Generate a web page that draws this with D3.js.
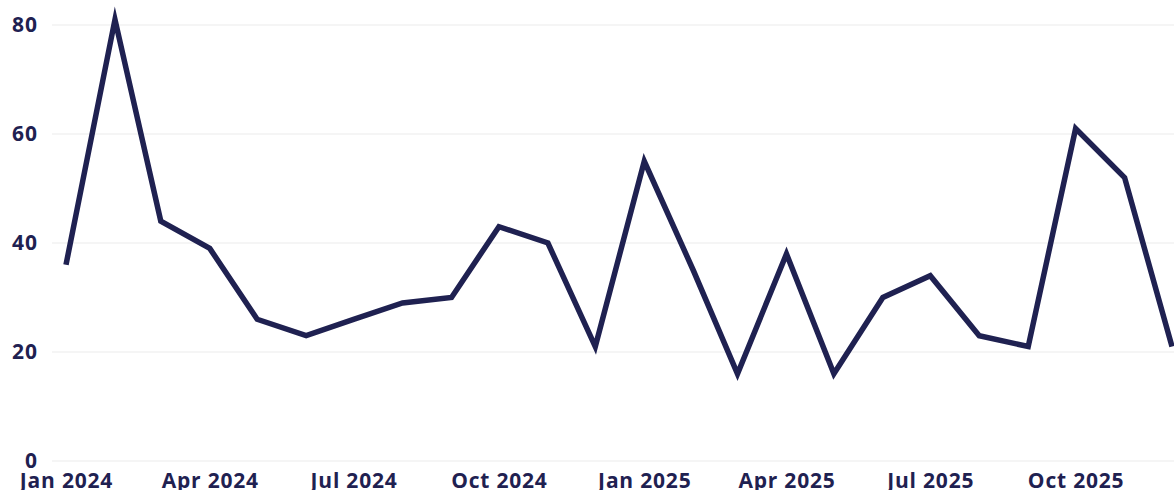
<!DOCTYPE html>
<html>
<head>
<meta charset="utf-8">
<script src="https://cdn.jsdelivr.net/npm/d3@7"></script>
<style>
  html, body { margin: 0; padding: 0; background: #fff; overflow: hidden; }
  svg { display: block; }
  .tick text { font-family: "Open Sans", Lato, sans-serif; font-weight: 700; fill: #1f2151; }
</style>
</head>
<body>
<svg id="chart" width="1174" height="490"></svg>
<script>
const months = ["2024-01","2024-02","2024-03","2024-04","2024-05","2024-06","2024-07","2024-08","2024-09","2024-10","2024-11","2024-12",
                "2025-01","2025-02","2025-03","2025-04","2025-05","2025-06","2025-07","2025-08","2025-09","2025-10","2025-11","2025-12"];
const values = [36, 81, 44, 39, 26, 23, 26, 29, 30, 43, 40, 21,
                55, 35, 16, 38, 16, 30, 34, 23, 21, 61, 52, 21];
const yTicks = [0, 20, 40, 60, 80];
const xTickMonths = ["2024-01","2024-04","2024-07","2024-10","2025-01","2025-04","2025-07","2025-10"];

const parse = d3.timeParse("%Y-%m");
const data = months.map((m, i) => ({ date: parse(m), value: values[i] }));

const svg = d3.select("#chart");
const W = 1174, H = 490;
const x = d3.scaleTime()
  .domain([parse(months[0]), parse(months[months.length - 1])])
  .range([66, 1172]);
const y = d3.scaleLinear().domain([0, 80]).range([461, 25]);

// grid
svg.append("g")
  .selectAll("line")
  .data(yTicks)
  .join("line")
  .attr("x1", 52).attr("x2", W)
  .attr("y1", d => y(d)).attr("y2", d => y(d))
  .attr("stroke", "#ebebeb").attr("stroke-width", 1.2);

// y axis
const yAxis = svg.append("g")
  .attr("transform", "translate(38,0)")
  .call(d3.axisLeft(y).tickValues(yTicks).tickSize(0).tickPadding(0));
yAxis.select(".domain").remove();
yAxis.selectAll("text").style("font-size", "21px").style("letter-spacing", "1px")
  .attr("text-anchor", "end").attr("dy", "0.3em");

// x axis
const xAxis = svg.append("g")
  .attr("transform", "translate(0,461)")
  .call(d3.axisBottom(x).tickValues(xTickMonths.map(parse)).tickFormat(d3.timeFormat("%b %Y")).tickSize(0).tickPadding(12));
xAxis.select(".domain").remove();
xAxis.selectAll("text").style("font-size", "21px").style("letter-spacing", "0.8px");

// line
const line = d3.line().x(d => x(d.date)).y(d => y(d.value));
svg.append("path")
  .datum(data)
  .attr("d", line)
  .attr("fill", "none")
  .attr("stroke", "#1f2151")
  .attr("stroke-width", 5.5)
  .attr("stroke-linejoin", "miter")
  .attr("stroke-miterlimit", 10);
</script>
</body>
</html>
